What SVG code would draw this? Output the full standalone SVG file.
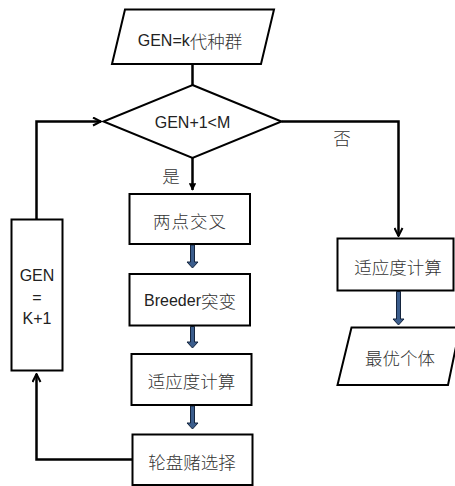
<svg xmlns="http://www.w3.org/2000/svg" width="455" height="486" viewBox="0 0 455 486">
<style>
.shape{fill:#fff;stroke:#000;stroke-width:2}
.t{font-family:"Liberation Sans","Noto Sans CJK SC",sans-serif;font-size:16px;fill:#222;text-anchor:middle;dominant-baseline:central}
.cjk{font-family:"Noto Sans CJK SC",sans-serif;font-size:17.5px;fill:#333;font-weight:300}
.c{fill:none;stroke:#000;stroke-width:2.5}
.barrow{fill:#3b5d8c;stroke:#14243d;stroke-width:1}
</style>
<defs>
<marker id="open" viewBox="0 0 10 10" refX="9" refY="5" markerWidth="4" markerHeight="4" orient="auto" markerUnits="strokeWidth">
<path d="M1,1 L9,5 L1,9" fill="none" stroke="#000" stroke-width="2"/>
</marker>
<marker id="fill" viewBox="0 0 10 10" refX="9" refY="5" markerWidth="3" markerHeight="3" orient="auto" markerUnits="strokeWidth">
<path d="M0,0 L10,5 L0,10 z" fill="#000"/>
</marker>
</defs>
<g id="connectors">
<line class="c" x1="192.5" y1="64" x2="192.5" y2="85"/>
<line class="c" x1="192.5" y1="158" x2="192.5" y2="190" marker-end="url(#fill)"/>
<polyline class="c" points="281.5,121.5 398.5,121.5 398.5,236" marker-end="url(#open)"/>
<polyline class="c" points="132.5,459.5 36.5,459.5 36.5,374" marker-end="url(#open)"/>
<polyline class="c" points="36.5,219 36.5,121.5 101,121.5" marker-end="url(#open)"/>
<polygon class="barrow" points="190.5,245 194.5,245 194.5,262 198,262 192.5,268 187,262 190.5,262"/>
<polygon class="barrow" points="190.5,326.5 194.5,326.5 194.5,342 198,342 192.5,348 187,342 190.5,342"/>
<polygon class="barrow" points="190.5,406 194.5,406 194.5,423 198,423 192.5,429 187,423 190.5,423"/>
<polygon class="barrow" points="396.5,291.5 400.5,291.5 400.5,319 404,319 398.5,325 393,319 396.5,319"/>
<text class="t cjk" x="171" y="175">是</text>
<text class="t cjk" x="342" y="137">否</text>
</g>
<g id="start">
<polygon class="shape" points="125,9.5 274,9.5 261,64 112,64"/>
<text class="t" x="190" y="40">GEN=k<tspan class="cjk">代种群</tspan></text>
</g>
<g id="decision">
<polygon class="shape" points="192.5,85 281.5,121.5 192.5,158 103.5,121.5"/>
<text class="t" x="192.5" y="122.5">GEN+1&lt;M</text>
</g>
<g id="crossover">
<rect class="shape" x="129.5" y="194" width="120.5" height="50"/>
<text class="t cjk" x="190" y="220" letter-spacing="1">两点交叉</text>
</g>
<g id="mutation">
<rect class="shape" x="129.5" y="274" width="120.5" height="51.5"/>
<text class="t" x="190" y="300">Breeder<tspan class="cjk">突变</tspan></text>
</g>
<g id="fitness1">
<rect class="shape" x="131.5" y="354" width="120" height="51"/>
<text class="t cjk" x="191.5" y="380">适应度计算</text>
</g>
<g id="selection">
<rect class="shape" x="132.5" y="434.5" width="120" height="50.5"/>
<text class="t cjk" x="192" y="461">轮盘赌选择</text>
</g>
<g id="gen">
<rect class="shape" x="11.5" y="219.5" width="51" height="151"/>
<text class="t" x="37" y="275">GEN</text>
<text class="t" x="37" y="297">=</text>
<text class="t" x="37" y="318.5">K+1</text>
</g>
<g id="fitness2">
<rect class="shape" x="337.5" y="238.5" width="116" height="52"/>
<text class="t cjk" x="398" y="266">适应度计算</text>
</g>
<g id="best">
<polygon class="shape" points="351.5,327.5 460,327.5 448,385 337.5,385"/>
<text class="t cjk" x="400" y="357">最优个体</text>
</g>
</svg>
